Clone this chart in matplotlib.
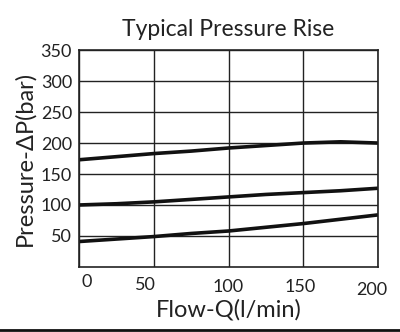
import matplotlib.pyplot as plt
from matplotlib.lines import Line2D
from matplotlib.transforms import ScaledTranslation

# Werte
flow = [0, 25, 50, 75, 100, 125, 150, 175, 200]
kurve_hoch = [173, 178, 183, 187, 192, 196, 200, 202, 200]
kurve_mitte = [100, 102, 105, 109, 113, 117, 120, 123, 127]
kurve_tief = [41, 45, 49, 54, 58, 64, 70, 77, 84]

x_ticks = [0, 50, 100, 150, 200]
y_ticks = [50, 100, 150, 200, 250, 300, 350]

plt.rcParams['font.family'] = ['Lato', 'DejaVu Sans']

fig = plt.figure(figsize=(4, 3.32), dpi=100)
ax = fig.add_axes([0.1975, 0.196, 0.7475, 0.653])

for kurve in (kurve_hoch, kurve_mitte, kurve_tief):
    ax.plot(flow, kurve, color='#111111', linewidth=2.6, solid_capstyle='butt')

ax.set_xlim(0, 200)
ax.set_ylim(0, 350)
ax.set_xticks(x_ticks)
ax.set_yticks(y_ticks)
ax.tick_params(length=0, labelsize=13, colors='#222222', pad=5)
ax.grid(color='#222222', linewidth=1.0)
ax.set_axisbelow(True)
for s in ax.spines.values():
    s.set_color('#222222')
    s.set_linewidth(1.2)

# die x-Beschriftungen sitzen im Original leicht schief
versatz = [(8, 0), (-8, -3), (0, -5), (-3, -5), (-6, -8)]
for lab, (dx, dy) in zip(ax.get_xticklabels(), versatz):
    lab.set_transform(lab.get_transform() + ScaledTranslation(dx / 100, dy / 100, fig.dpi_scale_trans))

ax.set_xlabel('Flow-Q(l/min)', fontsize=17, color='#222222', va='center')
ax.xaxis.set_label_coords(0.5, -0.198)
ax.set_ylabel('Pressure-ΔP(bar)', fontsize=17, color='#222222', labelpad=4)
ax.set_title('Typical Pressure Rise', fontsize=16.5, color='#222222', pad=10)

# Linie am unteren Bildrand
fig.add_artist(Line2D([0, 1], [0.006, 0.006], transform=fig.transFigure,
                      color='#111111', linewidth=2))

fig.savefig('out.png', dpi=100)
